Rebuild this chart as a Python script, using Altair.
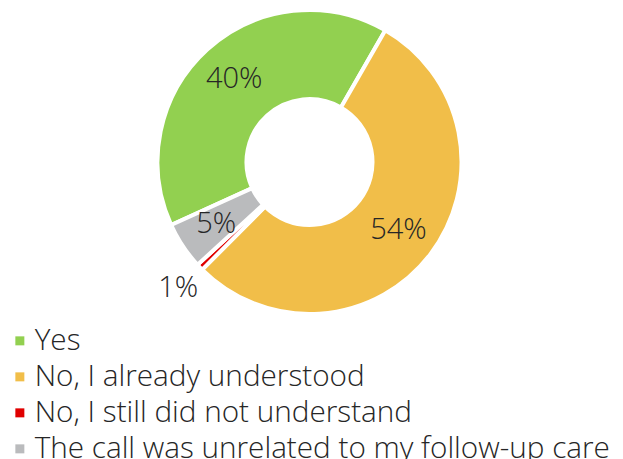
import math
import altair as alt
import pandas as pd

categories = [
    "Yes",
    "No, I already understood",
    "No, I still did not understand",
    "The call was unrelated to my follow-up care",
]
values = [40, 54, 0.7, 5]
colors = ["#92D050", "#F1BE49", "#E00000", "#BABBBD"]

df = pd.DataFrame({"cat": categories, "value": values, "idx": list(range(len(categories)))})

start = math.radians(245.5)
theta_scale = alt.Scale(domain=[0, sum(values)], range=[start, start + 2 * math.pi])
CX, CY = 309.5, 162
FONT = "Open Sans"

arcs = alt.Chart(df).mark_arc(
    x=CX, y=CY, innerRadius=63, outerRadius=152, stroke="white", strokeWidth=4
).encode(
    theta=alt.Theta("value:Q", stack=True, scale=theta_scale),
    order=alt.Order("idx:Q", sort="ascending"),
    color=alt.Color(
        "cat:N",
        scale=alt.Scale(domain=categories, range=colors),
        legend=alt.Legend(
            title=None,
            orient="none",
            legendX=5,
            legendY=326,
            direction="vertical",
            symbolType="square",
            symbolSize=81,
            symbolStrokeWidth=0,
            labelFont=FONT,
            labelFontSize=29.7,
            labelFontWeight=300,
            labelColor="#262626",
            labelLimit=0,
            rowPadding=5,
            symbolOffset=0,
            labelOffset=0,
        ),
    ),
)

labels = alt.Chart(df).transform_window(
    cum="sum(value)", sort=[alt.SortField("idx", order="ascending")]
).transform_calculate(
    mid="datum.cum - datum.value / 2",
    label="format(datum.value / 100, '.0%')",
    r="datum.value < 3 ? 182 : 112",
).mark_text(
    x=CX, y=CY, font=FONT, fontSize=29, fontWeight=300, color="#262626"
).encode(
    theta=alt.Theta("mid:Q", scale=theta_scale),
    radius=alt.Radius("r:Q", scale=None),
    text="label:N",
)

chart = (
    alt.layer(arcs, labels)
    .properties(width=623, height=459, padding=0, autosize=alt.AutoSizeParams(type="none"))
    .configure_view(stroke=None)
)

chart.save("out.html", embed_options={"renderer": "svg", "actions": False})
